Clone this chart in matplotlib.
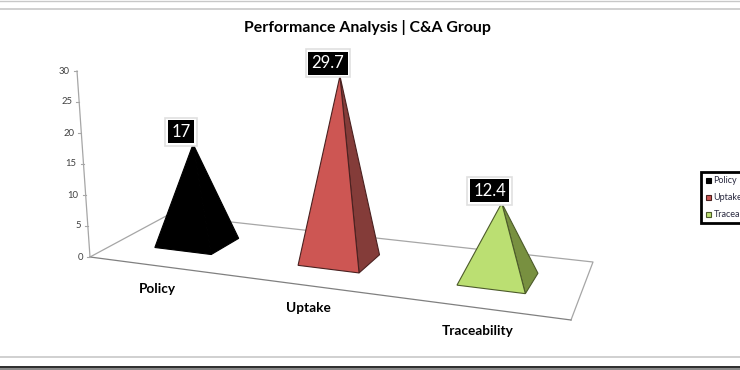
import matplotlib
matplotlib.use("Agg")
import matplotlib.pyplot as plt
from matplotlib.patches import Polygon, Rectangle
import numpy as np

plt.rcParams['font.family'] = ['Lato', 'DejaVu Sans']

# Data
categories = ["Policy", "Uptake", "Traceability"]
values = [17, 29.7, 12.4]
y_ticks = [0, 5, 10, 15, 20, 25, 30]
title = "Performance Analysis | C&A Group"

# Colours
front_colors = ["#000000", "#CD5653", "#BBDF72"]
side_colors = ["#000000", "#843C39", "#789040"]
edge_colors = ["#000000", "#4A2120", "#4C5A2A"]

# Fake 3D floor, corners in pixels (front left, front right, back right, back left)
floor_a = np.array([90, 257])
floor_b = np.array([571, 320])
floor_c = np.array([593, 262])
floor_d = np.array([168, 215])
axis_top = np.array([77, 71])

# Pyramid layout on the floor
u_left = [0.083, 0.393, 0.737]
u_right = [0.205, 0.525, 0.885]
d_front = 0.34
d_back = 0.73
px_per_unit = [5.78, 6.18, 6.1]
lean = [-0.21, 0.04, 0.34]


def floor(u, d):
    return ((1 - u) * (1 - d) * floor_a + u * (1 - d) * floor_b
            + u * d * floor_c + (1 - u) * d * floor_d)


fig = plt.figure(figsize=(7.4, 3.7), dpi=100)
ax = fig.add_axes([0, 0, 1, 1])
ax.set_xlim(0, 740)
ax.set_ylim(370, 0)
ax.axis('off')

# Window frame lines
ax.plot([0, 740], [0.5, 0.5], color="#C8C8C8", lw=1.0)
ax.plot([0, 740], [9, 9], color="#C8C8C8", lw=1.2)
ax.plot([0, 740], [357, 357], color="#C8C8C8", lw=1.2)
ax.add_patch(Rectangle((0, 366), 740, 1.8, color="#303030", lw=0))
ax.add_patch(Rectangle((0, 367.8), 740, 2.2, color="#8A8A8A", lw=0))

ax.text(367, 27.5, title, ha='center', va='center', fontsize=11.4,
        fontweight='bold', color="#000000")

# Floor outline and value axis
ax.plot([floor_b[0], floor_c[0], floor_d[0], floor_a[0]],
        [floor_b[1], floor_c[1], floor_d[1], floor_a[1]],
        color="#A6A6A6", lw=0.9)
ax.plot([floor_a[0], floor_b[0]], [floor_a[1], floor_b[1]], color="#808080", lw=0.9)
ax.plot([floor_a[0], axis_top[0]], [floor_a[1], axis_top[1]], color="#A6A6A6", lw=0.9)

for t in y_ticks:
    p = floor_a + (axis_top - floor_a) * t / y_ticks[-1]
    ax.plot([p[0] - 3, p[0]], [p[1], p[1]], color="#A6A6A6", lw=0.8)
    ax.text(p[0] - 7, p[1], str(t), ha='right', va='center', fontsize=6.8,
            color="#404040")

# Pyramids
for i, v in enumerate(values):
    u0, u1 = u_left[i], u_right[i]
    um = (u0 + u1) / 2
    centre = floor(um, (d_front + d_back) / 2)
    apex = centre + np.array([lean[i] * v, -px_per_unit[i] * v])
    fl = floor(u0, d_front)
    fr = floor(u1, d_front)
    br = floor(u1, d_back) + np.array([1.5, 1.5])
    ax.add_patch(Polygon([fr, br, apex], closed=True, facecolor=side_colors[i],
                         edgecolor=edge_colors[i], lw=0.8, zorder=3))
    ax.add_patch(Polygon([fl, fr, apex], closed=True, facecolor=front_colors[i],
                         edgecolor=edge_colors[i], lw=0.8, zorder=4))

    # Data label, white card with a soft shadow round a black box
    lx, ly = apex[0] - 12, apex[1] - 12.5
    s = str(v)
    ax.text(lx, ly, s, ha='center', va='center', fontsize=12, color='none',
            bbox=dict(boxstyle='square,pad=0.36', fc="white", ec="#E0E0E0", lw=1.2), zorder=6)
    ax.text(lx, ly, s, ha='center', va='center', fontsize=12, color='white',
            bbox=dict(boxstyle='square,pad=0.2', fc="black", ec='none'), zorder=7)

    # Category label below the front edge
    base = floor(um, 0)
    ax.text(base[0] - 2, base[1] + 22.5, categories[i], ha='center', va='center',
            fontsize=9.8, fontweight='bold', color="#000000")

# Legend, cut off by the picture edge as in the original
ax.add_patch(Rectangle((701, 172), 60, 50.5, fc='white', ec='black', lw=2, zorder=8))
for i, name in enumerate(categories):
    ly = 180.5 + i * 17
    ax.add_patch(Rectangle((706, ly - 2.5), 5, 5, fc=front_colors[i],
                           ec=edge_colors[i], lw=0.8, zorder=9))
    ax.text(713.5, ly, name, ha='left', va='center', fontsize=6.5,
            color="#2A2A40", zorder=9, clip_on=True)

plt.savefig("out.png", dpi=100, facecolor='white')
